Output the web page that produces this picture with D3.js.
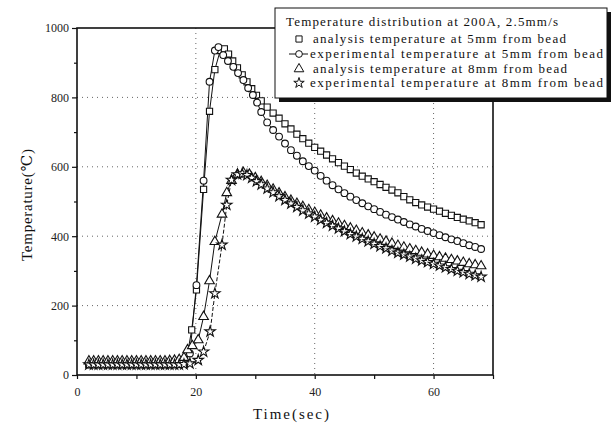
<!DOCTYPE html>
<html>
<head>
<meta charset="utf-8">
<script src="https://cdn.jsdelivr.net/npm/d3@7"></script>
<style>
  html, body { margin: 0; padding: 0; background: #fff; }
  svg text { font-family: "Liberation Serif", "DejaVu Serif", serif; fill: #111; }
</style>
</head>
<body>
<div id="chart"></div>
<script>
// ---- data (time s, temperature C) ----
var analysis5 = [
  [2,30],[2.8,30],[3.6,30],[4.4,30],[5.2,30],[6,30],[6.8,30],[7.6,30],[8.4,30],[9.2,30],
  [10,30],[10.8,30],[11.6,30],[12.4,30],[13.2,30],[14,30],[14.8,30],[15.6,30],[16.4,31],[17.2,32],
  [18,38],[18.6,62],[19.3,130],[20.1,245],[21.3,535],[22.3,760],[23.2,880],[24.1,935],[24.8,940],
  [25.5,925],[26.2,905],[27,885],[27.8,865],[28.6,845],[29.4,825],[30.2,806],[31,790],[32,772],
  [33,755],[34,740],[35,724],[36,709],[37,694],[38,681],[39,668],[40,656],[41,645],[42,634],
  [43,623],[44,612],[45,602],[46,592],[47,582],[48,573],[49,565],[50,557],[51,549],[52,541],
  [53,533],[54,525],[55,514],[56,505],[57,497],[58,490],[59,484],[60,478],[61,472],[62,466],
  [63,460],[64,454],[65,449],[66,444],[67,439],[68,433]
];
var experiment5 = [
  [2,30],[2.8,30],[3.6,30],[4.4,30],[5.2,30],[6,30],[6.8,30],[7.6,30],[8.4,30],[9.2,30],
  [10,30],[10.8,30],[11.6,30],[12.4,30],[13.2,30],[14,30],[14.8,30],[15.6,30],[16.4,30],[17.2,31],
  [18,34],[19,62],[20.1,259],[21.3,560],[22.3,845],[23.2,935],[23.8,945],[24.6,922],[25.4,905],
  [26.3,888],[27.1,870],[28,850],[28.8,827],[29.6,807],[30.3,785],[31,758],[32,728],[33,706],
  [34,687],[35,667],[36,648],[37,632],[38,616],[39,602],[40,589],[41,574],[42,560],[43,547],
  [44,535],[45,524],[46,514],[47,504],[48,495],[49,486],[50,478],[51,470],[52,462],[53,455],
  [54,448],[55,441],[56,434],[57,428],[58,421],[59,415],[60,409],[61,403],[62,397],[63,391],
  [64,386],[65,380],[66,374],[67,369],[68,363]
];
var analysis8 = [
  [2,40],[2.8,40],[3.6,40],[4.4,40],[5.2,40],[6,40],[6.8,40],[7.6,40],[8.4,40],[9.2,40],
  [10,40],[10.8,40],[11.6,40],[12.4,40],[13.2,40],[14,40],[14.8,40],[15.6,41],[16.4,42],[17.2,44],
  [18,50],[18.6,72],[19.4,84],[20.4,101],[21.3,168],[22.3,271],[23.2,384],[24.4,463],[25.2,525],
  [26,560],[27,578],[28,583],[29,578],[30,568],[31,557],[32,546],[33,535],[34,524],[35,513],
  [36,503],[37,494],[38,485],[39,476],[40,468],[41,460],[42,452],[43,444],[44,437],[45,430],
  [46,423],[47,416],[48,409],[49,403],[50,397],[51,391],[52,385],[53,379],[54,373],[55,368],
  [56,363],[57,358],[58,353],[59,348],[60,344],[61,340],[62,336],[63,332],[64,328],[65,324],
  [66,320],[67,317],[68,314]
];
var experiment8 = [
  [2,30],[2.8,30],[3.6,30],[4.4,30],[5.2,30],[6,30],[6.8,30],[7.6,30],[8.4,30],[9.2,30],
  [10,30],[10.8,30],[11.6,30],[12.4,30],[13.2,30],[14,30],[14.8,30],[15.6,30],[16.4,30],[17.2,30],
  [18,31],[19,33],[20.4,43],[21.3,67],[22.4,125],[23.2,235],[24.4,375],[25.2,490],[26,562],
  [27,578],[27.8,580],[28.6,576],[29.4,568],[30.2,558],[31,549],[32,537],[33,526],[34,515],
  [35,504],[36,494],[37,484],[38,474],[39,465],[40,456],[41,447],[42,438],[43,430],[44,422],
  [45,414],[46,406],[47,399],[48,392],[49,385],[50,378],[51,371],[52,365],[53,358],[54,352],
  [55,347],[56,341],[57,335],[58,330],[59,325],[60,320],[61,315],[62,310],[63,305],[64,300],
  [65,296],[66,291],[67,287],[68,283]
];

var xMajor = [0, 20, 40, 60];
var xMinor = [10, 30, 50, 70];
var yMajor = [0, 200, 400, 600, 800, 1000];
var yMinor = [100, 300, 500, 700, 900];
var xGrid  = [20, 40, 60];
var yGrid  = [200, 400, 600, 800];

var legendTitle = "Temperature distribution at 200A, 2.5mm/s";
var series = [
  { data: analysis5,   symbol: d3.symbolSquare,   size: 38, dash: null,  label: "analysis temperature at 5mm from bead" },
  { data: experiment5, symbol: d3.symbolCircle,   size: 36, dash: null,  label: "experimental temperature at 5mm from bead" },
  { data: analysis8,   symbol: d3.symbolTriangle, size: 40, dash: null,  label: "analysis temperature at 8mm from bead" },
  { data: experiment8, symbol: d3.symbolStar,     size: 34, dash: "4 2", label: "experimental temperature at 8mm from bead" }
];

(function () {
    var W = 612, H = 431;
    var plot = { left: 77, right: 493, top: 28, bottom: 375 };
    var FONT = "'Liberation Serif', 'DejaVu Serif', serif";

    var svg = d3.select("#chart").append("svg")
        .attr("width", W).attr("height", H);

    var x = d3.scaleLinear().domain([0, 70]).range([plot.left, plot.right]);
    var y = d3.scaleLinear().domain([0, 1000]).range([plot.bottom, plot.top]);

    // dotted grid
    svg.append("g").selectAll("line").data(yGrid).enter().append("line")
        .attr("x1", plot.left).attr("x2", plot.right)
        .attr("y1", function (d) { return y(d); }).attr("y2", function (d) { return y(d); })
        .attr("stroke", "#555").attr("stroke-width", 0.9).attr("stroke-dasharray", "1 4");
    svg.append("g").selectAll("line").data(xGrid).enter().append("line")
        .attr("y1", plot.top).attr("y2", plot.bottom)
        .attr("x1", function (d) { return x(d); }).attr("x2", function (d) { return x(d); })
        .attr("stroke", "#555").attr("stroke-width", 0.9).attr("stroke-dasharray", "1 4");

    // series lines
    var line = d3.line()
        .x(function (d) { return x(d[0]); })
        .y(function (d) { return y(d[1]); });

    series.forEach(function (s) {
        svg.append("path")
            .datum(s.data)
            .attr("fill", "none")
            .attr("stroke", "#111")
            .attr("stroke-width", 1)
            .attr("stroke-dasharray", s.dash)
            .attr("d", line);
    });

    // markers
    series.forEach(function (s) {
        svg.append("g").selectAll("path").data(s.data).enter().append("path")
            .attr("transform", function (d) { return "translate(" + x(d[0]) + "," + y(d[1]) + ")"; })
            .attr("d", d3.symbol().type(s.symbol).size(s.size))
            .attr("fill", "#fff")
            .attr("stroke", "#111")
            .attr("stroke-width", 1.1);
    });

    // axes
    svg.append("g").attr("transform", "translate(" + plot.left + ",0)")
        .call(d3.axisLeft(y).tickValues(yMajor).tickSize(5).tickPadding(3).tickFormat(d3.format("d")));
    svg.append("g").attr("transform", "translate(" + plot.left + ",0)")
        .call(d3.axisLeft(y).tickValues(yMinor).tickSize(3).tickFormat(""));
    svg.append("g").attr("transform", "translate(0," + plot.bottom + ")")
        .call(d3.axisBottom(x).tickValues(xMajor).tickSize(4).tickPadding(8).tickFormat(d3.format("d")));
    svg.append("g").attr("transform", "translate(0," + plot.bottom + ")")
        .call(d3.axisBottom(x).tickValues(xMinor).tickSize(4).tickFormat(""));

    svg.selectAll(".domain").remove();
    svg.selectAll(".tick line").attr("stroke", "#111").attr("stroke-width", 1.2);
    svg.selectAll(".tick text")
        .attr("font-family", FONT)
        .style("font-family", FONT)
        .style("font-size", "12px")
        .style("fill", "#222");

    // frame
    svg.append("rect")
        .attr("x", plot.left).attr("y", plot.top)
        .attr("width", plot.right - plot.left).attr("height", plot.bottom - plot.top)
        .attr("fill", "none").attr("stroke", "#111").attr("stroke-width", 1.6);

    // axis titles
    svg.append("text")
        .attr("transform", "rotate(-90)")
        .attr("x", -205).attr("y", 32)
        .attr("text-anchor", "middle")
        .style("font-size", "15px")
        .attr("textLength", 112)
        .text("Temperature(\u2103)");

    svg.append("text")
        .attr("x", 291).attr("y", 419)
        .attr("text-anchor", "middle")
        .style("font-size", "15px")
        .attr("textLength", 76)
        .text("Time(sec)");

    // legend
    var lg = svg.append("g").attr("class", "legend");
    lg.append("rect")
        .attr("x", 279).attr("y", 12).attr("width", 332).attr("height", 90)
        .attr("fill", "#111");
    lg.append("rect")
        .attr("x", 275).attr("y", 8).attr("width", 332).attr("height", 90)
        .attr("fill", "#fff").attr("stroke", "#111").attr("stroke-width", 1);

    lg.append("text")
        .attr("x", 286).attr("y", 26)
        .style("font-size", "13px")
        .attr("textLength", 272).attr("lengthAdjust", "spacing")
        .text(legendTitle);

    var rowY = [39, 54, 69, 83];
    var textX = [313, 310, 313, 310];
    var textW = [253, 293, 254, 293];
    series.forEach(function (s, i) {
        var cy = rowY[i];
        if (i === 1) {
            lg.append("line")
                .attr("x1", 289).attr("x2", 308).attr("y1", cy).attr("y2", cy)
                .attr("stroke", "#111").attr("stroke-width", 1);
        }
        lg.append("path")
            .attr("transform", "translate(299," + cy + ")")
            .attr("d", d3.symbol().type(s.symbol).size(s.size))
            .attr("fill", "#fff").attr("stroke", "#111").attr("stroke-width", 1);
        lg.append("text")
            .attr("x", textX[i]).attr("y", cy + 4)
            .style("font-size", "13px")
            .attr("textLength", textW[i]).attr("lengthAdjust", "spacing")
            .text(s.label);
    });
}());
</script>
</body>
</html>
